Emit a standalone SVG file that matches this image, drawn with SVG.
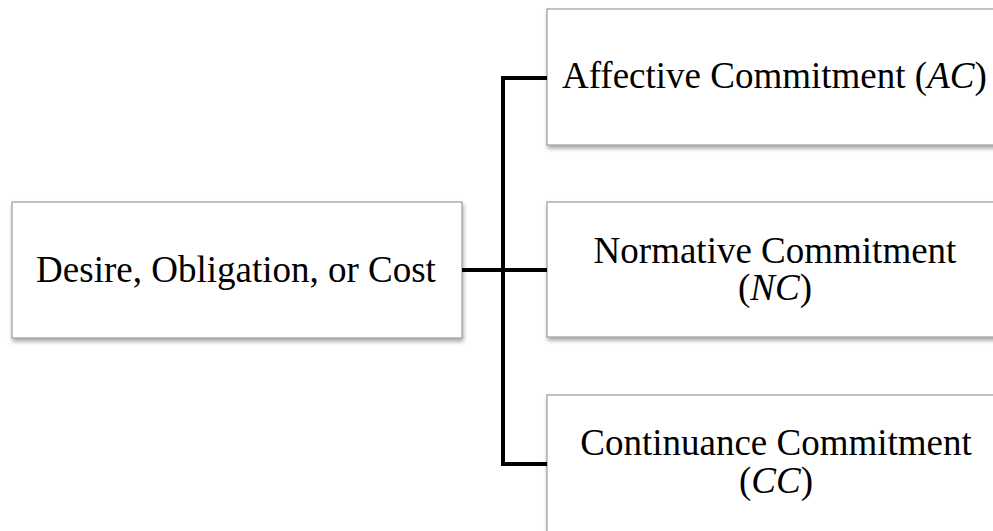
<svg xmlns="http://www.w3.org/2000/svg" width="993" height="531" viewBox="0 0 993 531">
<defs>
<filter id="sh" x="-5%" y="-5%" width="115%" height="120%">
<feDropShadow dx="1" dy="3" stdDeviation="2" flood-color="#000" flood-opacity="0.35"/>
</filter>
<style>
.box{fill:#fff;stroke:#9a9a9a;stroke-width:1.2;filter:url(#sh)}
.t{font-family:"Liberation Serif","Times New Roman",serif;font-size:37px;fill:#000}
.c{fill:none;stroke:#000;stroke-width:4;stroke-linejoin:miter}
</style>
</defs>
<rect width="993" height="531" fill="#fff"/>
<g id="node-source">
<rect class="box" x="12" y="202" width="450" height="136"/>
<text class="t" x="236" y="282" text-anchor="middle">Desire, Obligation, or Cost</text>
</g>
<g id="node-ac">
<rect class="box" x="547" y="9" width="470" height="136"/>
<text class="t" x="562" y="88">Affective Commitment (<tspan font-style="italic">AC</tspan>)</text>
</g>
<g id="node-nc">
<rect class="box" x="547" y="202" width="470" height="135"/>
<text class="t" x="775" y="263" text-anchor="middle">Normative Commitment</text>
<text class="t" x="775" y="300" text-anchor="middle">(<tspan font-style="italic">NC</tspan>)</text>
</g>
<g id="node-cc">
<rect class="box" x="547" y="395" width="470" height="160"/>
<text class="t" x="776" y="455" text-anchor="middle">Continuance Commitment</text>
<text class="t" x="776" y="493" text-anchor="middle">(<tspan font-style="italic">CC</tspan>)</text>
</g>
<g id="connectors">
<path class="c" d="M547,78 H503 V464 H547"/>
<path class="c" d="M462,270 H547"/>
</g>
</svg>
